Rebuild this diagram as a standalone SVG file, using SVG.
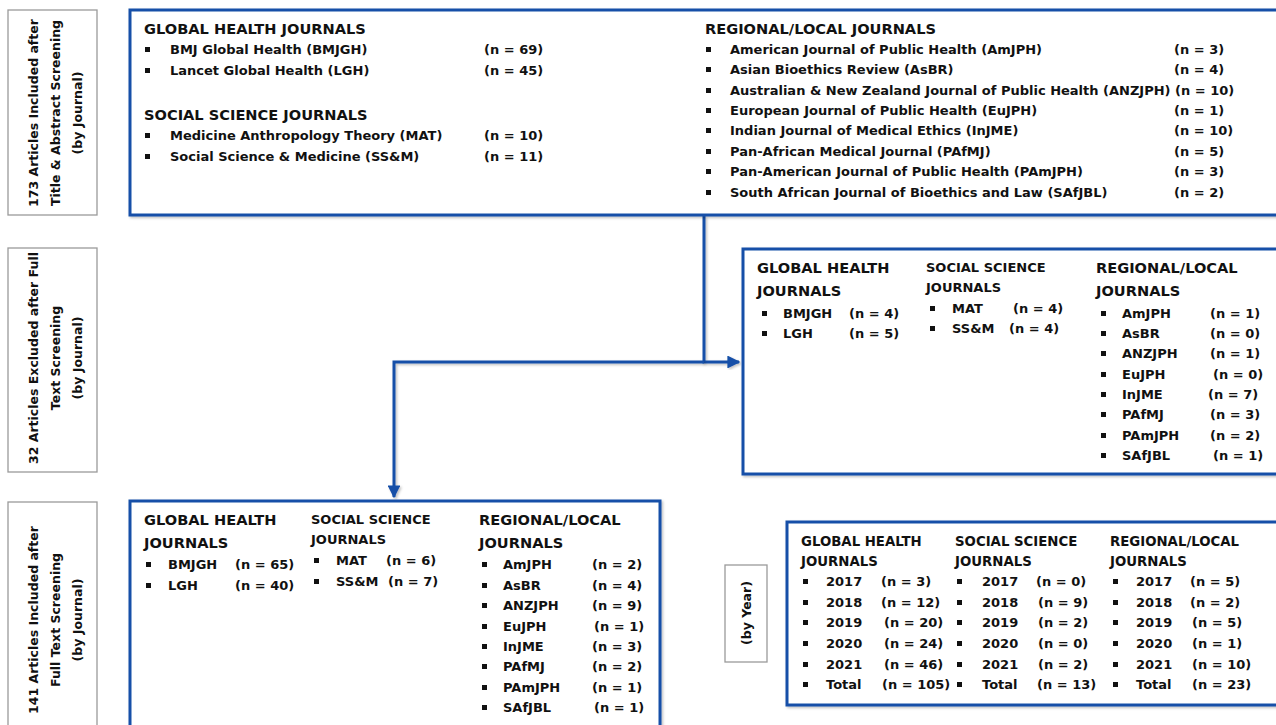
<svg xmlns="http://www.w3.org/2000/svg" width="1276" height="725" viewBox="0 0 1276 725">
<defs>
<style>
text{font-family:"DejaVu Sans","Liberation Sans",sans-serif;font-weight:bold;fill:#111}
.h{font-size:14.6px}
.hs{font-size:13px}
.hy{font-size:13.3px}
.t{font-size:13px}
.lbl{font-size:12.5px;text-anchor:middle}
.box{fill:#fff;stroke:#1450a8;stroke-width:3;filter:url(#sh)}
.gbox{fill:#fff;stroke:#9a9a9a;stroke-width:1.3}
.b{fill:#111}
.conn{fill:none;stroke:#1450a8;stroke-width:3;filter:url(#sh)}
</style>
<filter id="sh" x="-5%" y="-5%" width="110%" height="110%">
<feDropShadow dx="1.5" dy="1.5" stdDeviation="1" flood-color="#000" flood-opacity="0.25"/>
</filter>
<marker id="arr" viewBox="0 0 10 10" refX="9" refY="5" markerWidth="4.3" markerHeight="4.3" orient="auto" markerUnits="strokeWidth">
<path d="M0,0 L10,5 L0,10 z" fill="#1450a8"/>
</marker>
<g id="bl"><rect class="b" x="0" y="-7" width="5" height="5"/></g>
</defs>
<rect width="1276" height="725" fill="#fff"/>

<g id="label-ta">
<rect class="gbox" x="8" y="10" width="89" height="205"/>
<g transform="translate(55,113) rotate(-90)">
<text class="lbl" x="0" y="-17">173 Articles Included after</text>
<text class="lbl" x="0" y="5">Title &amp; Abstract Screening</text>
<text class="lbl" x="0" y="27">(by Journal)</text>
</g>
</g>

<g id="label-excl">
<rect class="gbox" x="8" y="248" width="89" height="224"/>
<g transform="translate(55,358) rotate(-90)">
<text class="lbl" x="0" y="-17">32 Articles Excluded after Full</text>
<text class="lbl" x="0" y="5">Text Screening</text>
<text class="lbl" x="0" y="27">(by Journal)</text>
</g>
</g>

<g id="label-ft">
<rect class="gbox" x="8" y="502" width="89" height="240"/>
<g transform="translate(55,620) rotate(-90)">
<text class="lbl" x="0" y="-17">141 Articles Included after</text>
<text class="lbl" x="0" y="5">Full Text Screening</text>
<text class="lbl" x="0" y="27">(by Journal)</text>
</g>
</g>

<g id="label-year">
<rect class="gbox" x="725" y="565" width="42" height="97"/>
<g transform="translate(746,613) rotate(-90)">
<text class="lbl" x="0" y="5">(by Year)</text>
</g>
</g>

<g id="connectors">
<path class="conn" d="M704,216 V362 H739" marker-end="url(#arr)"/>
<path class="conn" d="M704,362 H394 V497" marker-end="url(#arr)"/>
</g>

<g id="included-title-abstract">
<rect class="box" x="130" y="10" width="1160" height="205"/>
<text class="h" x="144" y="34">GLOBAL HEALTH JOURNALS</text>
<use href="#bl" x="145" y="54"/><text class="t" x="170" y="54">BMJ Global Health (BMJGH)</text><text class="t" x="484" y="54">(n = 69)</text>
<use href="#bl" x="145" y="75"/><text class="t" x="170" y="75">Lancet Global Health (LGH)</text><text class="t" x="484" y="75">(n = 45)</text>
<text class="h" x="144" y="120">SOCIAL SCIENCE JOURNALS</text>
<use href="#bl" x="145" y="140"/><text class="t" x="170" y="140">Medicine Anthropology Theory (MAT)</text><text class="t" x="484" y="140">(n = 10)</text>
<use href="#bl" x="145" y="161"/><text class="t" x="170" y="161">Social Science &amp; Medicine (SS&amp;M)</text><text class="t" x="484" y="161">(n = 11)</text>
<text class="h" x="705" y="34">REGIONAL/LOCAL JOURNALS</text>
<use href="#bl" x="706" y="54"/><text class="t" x="730" y="54">American Journal of Public Health (AmJPH)</text><text class="t" x="1174" y="54">(n = 3)</text>
<use href="#bl" x="706" y="74"/><text class="t" x="730" y="74">Asian Bioethics Review (AsBR)</text><text class="t" x="1174" y="74">(n = 4)</text>
<use href="#bl" x="706" y="95"/><text class="t" x="730" y="95">Australian &amp; New Zealand Journal of Public Health (ANZJPH)</text><text class="t" x="1175" y="95">(n = 10)</text>
<use href="#bl" x="706" y="115"/><text class="t" x="730" y="115">European Journal of Public Health (EuJPH)</text><text class="t" x="1174" y="115">(n = 1)</text>
<use href="#bl" x="706" y="135"/><text class="t" x="730" y="135">Indian Journal of Medical Ethics (InJME)</text><text class="t" x="1174" y="135">(n = 10)</text>
<use href="#bl" x="706" y="156"/><text class="t" x="730" y="156">Pan-African Medical Journal (PAfMJ)</text><text class="t" x="1174" y="156">(n = 5)</text>
<use href="#bl" x="706" y="176"/><text class="t" x="730" y="176">Pan-American Journal of Public Health (PAmJPH)</text><text class="t" x="1174" y="176">(n = 3)</text>
<use href="#bl" x="706" y="197"/><text class="t" x="730" y="197">South African Journal of Bioethics and Law (SAfJBL)</text><text class="t" x="1174" y="197">(n = 2)</text>
</g>

<g id="excluded-full-text">
<rect class="box" x="743" y="249" width="560" height="225"/>
<text class="h" x="757" y="273">GLOBAL HEALTH</text>
<text class="h" x="757" y="296">JOURNALS</text>
<use href="#bl" x="762" y="318"/><text class="t" x="783" y="318">BMJGH</text><text class="t" x="849" y="318">(n = 4)</text>
<use href="#bl" x="762" y="338"/><text class="t" x="783" y="338">LGH</text><text class="t" x="849" y="338">(n = 5)</text>
<text class="hs" x="926" y="272">SOCIAL SCIENCE</text>
<text class="hs" x="926" y="292">JOURNALS</text>
<use href="#bl" x="930" y="313"/><text class="t" x="952" y="313">MAT</text><text class="t" x="1013" y="313">(n = 4)</text>
<use href="#bl" x="930" y="333"/><text class="t" x="952" y="333">SS&amp;M</text><text class="t" x="1009" y="333">(n = 4)</text>
<text class="h" x="1096" y="273">REGIONAL/LOCAL</text>
<text class="h" x="1096" y="296">JOURNALS</text>
<use href="#bl" x="1101" y="318"/><text class="t" x="1122" y="318">AmJPH</text><text class="t" x="1210" y="318">(n = 1)</text>
<use href="#bl" x="1101" y="338"/><text class="t" x="1122" y="338">AsBR</text><text class="t" x="1210" y="338">(n = 0)</text>
<use href="#bl" x="1101" y="358"/><text class="t" x="1122" y="358">ANZJPH</text><text class="t" x="1210" y="358">(n = 1)</text>
<use href="#bl" x="1101" y="379"/><text class="t" x="1122" y="379">EuJPH</text><text class="t" x="1213" y="379">(n = 0)</text>
<use href="#bl" x="1101" y="399"/><text class="t" x="1122" y="399">InJME</text><text class="t" x="1208" y="399">(n = 7)</text>
<use href="#bl" x="1101" y="419"/><text class="t" x="1122" y="419">PAfMJ</text><text class="t" x="1210" y="419">(n = 3)</text>
<use href="#bl" x="1101" y="440"/><text class="t" x="1122" y="440">PAmJPH</text><text class="t" x="1210" y="440">(n = 2)</text>
<use href="#bl" x="1101" y="460"/><text class="t" x="1122" y="460">SAfJBL</text><text class="t" x="1213" y="460">(n = 1)</text>
</g>

<g id="included-full-text">
<rect class="box" x="130" y="501" width="530" height="240"/>
<text class="h" x="144" y="525">GLOBAL HEALTH</text>
<text class="h" x="144" y="548">JOURNALS</text>
<use href="#bl" x="146" y="569"/><text class="t" x="168" y="569">BMJGH</text><text class="t" x="235" y="569">(n = 65)</text>
<use href="#bl" x="146" y="590"/><text class="t" x="168" y="590">LGH</text><text class="t" x="235" y="590">(n = 40)</text>
<text class="hs" x="311" y="524">SOCIAL SCIENCE</text>
<text class="hs" x="311" y="544">JOURNALS</text>
<use href="#bl" x="314" y="565"/><text class="t" x="336" y="565">MAT</text><text class="t" x="386" y="565">(n = 6)</text>
<use href="#bl" x="314" y="586"/><text class="t" x="336" y="586">SS&amp;M</text><text class="t" x="388" y="586">(n = 7)</text>
<text class="h" x="479" y="525">REGIONAL/LOCAL</text>
<text class="h" x="479" y="548">JOURNALS</text>
<use href="#bl" x="482" y="569"/><text class="t" x="503" y="569">AmJPH</text><text class="t" x="592" y="569">(n = 2)</text>
<use href="#bl" x="482" y="590"/><text class="t" x="503" y="590">AsBR</text><text class="t" x="592" y="590">(n = 4)</text>
<use href="#bl" x="482" y="610"/><text class="t" x="503" y="610">ANZJPH</text><text class="t" x="592" y="610">(n = 9)</text>
<use href="#bl" x="482" y="631"/><text class="t" x="503" y="631">EuJPH</text><text class="t" x="594" y="631">(n = 1)</text>
<use href="#bl" x="482" y="651"/><text class="t" x="503" y="651">InJME</text><text class="t" x="592" y="651">(n = 3)</text>
<use href="#bl" x="482" y="671"/><text class="t" x="503" y="671">PAfMJ</text><text class="t" x="592" y="671">(n = 2)</text>
<use href="#bl" x="482" y="692"/><text class="t" x="503" y="692">PAmJPH</text><text class="t" x="592" y="692">(n = 1)</text>
<use href="#bl" x="482" y="712"/><text class="t" x="503" y="712">SAfJBL</text><text class="t" x="594" y="712">(n = 1)</text>
</g>

<g id="included-by-year">
<rect class="box" x="787" y="522" width="520" height="183"/>
<text class="hy" x="801" y="546">GLOBAL HEALTH</text>
<text class="hy" x="801" y="566">JOURNALS</text>
<use href="#bl" x="803" y="586"/><text class="t" x="826" y="586">2017</text><text class="t" x="881" y="586">(n = 3)</text>
<use href="#bl" x="803" y="607"/><text class="t" x="826" y="607">2018</text><text class="t" x="881" y="607">(n = 12)</text>
<use href="#bl" x="803" y="627"/><text class="t" x="826" y="627">2019</text><text class="t" x="884" y="627">(n = 20)</text>
<use href="#bl" x="803" y="648"/><text class="t" x="826" y="648">2020</text><text class="t" x="884" y="648">(n = 24)</text>
<use href="#bl" x="803" y="669"/><text class="t" x="826" y="669">2021</text><text class="t" x="884" y="669">(n = 46)</text>
<use href="#bl" x="803" y="689"/><text class="t" x="826" y="689">Total</text><text class="t" x="882" y="689">(n = 105)</text>
<text class="hy" x="955" y="546">SOCIAL SCIENCE</text>
<text class="hy" x="955" y="566">JOURNALS</text>
<use href="#bl" x="957" y="586"/><text class="t" x="982" y="586">2017</text><text class="t" x="1036" y="586">(n = 0)</text>
<use href="#bl" x="957" y="607"/><text class="t" x="982" y="607">2018</text><text class="t" x="1038" y="607">(n = 9)</text>
<use href="#bl" x="957" y="627"/><text class="t" x="982" y="627">2019</text><text class="t" x="1038" y="627">(n = 2)</text>
<use href="#bl" x="957" y="648"/><text class="t" x="982" y="648">2020</text><text class="t" x="1038" y="648">(n = 0)</text>
<use href="#bl" x="957" y="669"/><text class="t" x="982" y="669">2021</text><text class="t" x="1038" y="669">(n = 2)</text>
<use href="#bl" x="957" y="689"/><text class="t" x="982" y="689">Total</text><text class="t" x="1037" y="689">(n = 13)</text>
<text class="hy" x="1110" y="546">REGIONAL/LOCAL</text>
<text class="hy" x="1110" y="566">JOURNALS</text>
<use href="#bl" x="1113" y="586"/><text class="t" x="1136" y="586">2017</text><text class="t" x="1190" y="586">(n = 5)</text>
<use href="#bl" x="1113" y="607"/><text class="t" x="1136" y="607">2018</text><text class="t" x="1190" y="607">(n = 2)</text>
<use href="#bl" x="1113" y="627"/><text class="t" x="1136" y="627">2019</text><text class="t" x="1192" y="627">(n = 5)</text>
<use href="#bl" x="1113" y="648"/><text class="t" x="1136" y="648">2020</text><text class="t" x="1192" y="648">(n = 1)</text>
<use href="#bl" x="1113" y="669"/><text class="t" x="1136" y="669">2021</text><text class="t" x="1192" y="669">(n = 10)</text>
<use href="#bl" x="1113" y="689"/><text class="t" x="1136" y="689">Total</text><text class="t" x="1192" y="689">(n = 23)</text>
</g>
</svg>
